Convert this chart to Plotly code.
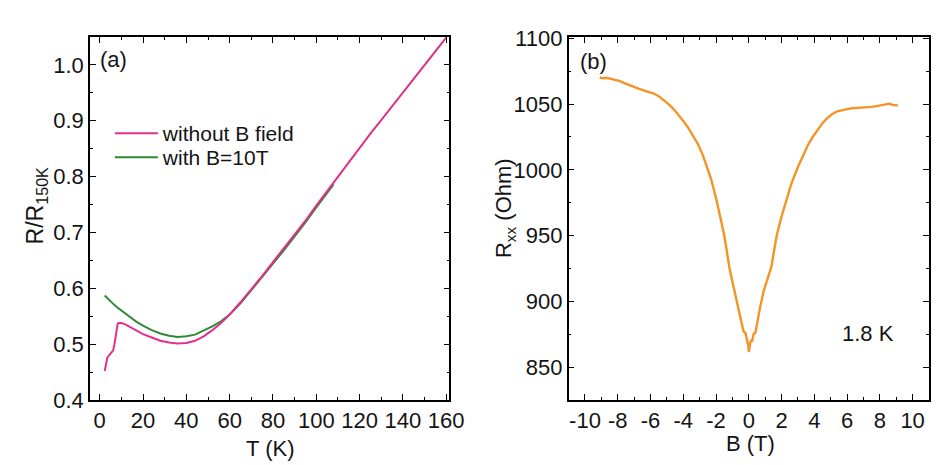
import plotly.graph_objects as go

# ---------------- data: panel (a) ----------------
T_zero = [2.3, 2.6, 3.0, 3.5, 4.5, 5.5, 6.2, 6.8, 7.3, 7.8, 8.3, 9.0, 10.0, 12, 14, 17, 20, 24, 28,
          32, 36, 40, 44, 48, 52, 56, 60, 65, 70, 75, 80, 85, 90, 95, 100, 105, 110, 115, 120,
          125, 130, 135, 140, 145, 150, 155, 160]
R_zero = [0.452, 0.460, 0.470, 0.476, 0.481, 0.485, 0.489, 0.500, 0.515, 0.530, 0.537, 0.538,
          0.538, 0.535, 0.531, 0.524, 0.518, 0.512, 0.506, 0.503, 0.501, 0.502, 0.506, 0.514,
          0.525, 0.538, 0.553, 0.575, 0.598, 0.622, 0.647, 0.671, 0.695, 0.721, 0.748, 0.774,
          0.799, 0.826, 0.852, 0.877, 0.901, 0.926, 0.950, 0.975, 1.000, 1.024, 1.049]

T_10T = [2.3, 4, 6, 8, 10, 12, 14, 17, 20, 24, 28, 32, 36, 40, 44, 48, 52, 56, 60, 65, 70, 75,
         80, 85, 90, 95, 100, 105, 108]
R_10T = [0.587, 0.580, 0.573, 0.566, 0.560, 0.554, 0.548, 0.540, 0.533, 0.525, 0.519, 0.515,
         0.513, 0.514, 0.517, 0.524, 0.532, 0.541, 0.553, 0.573, 0.596, 0.620, 0.644, 0.668,
         0.692, 0.718, 0.745, 0.771, 0.786]

# ---------------- data: panel (b) ----------------
B_field = [-9.1, -8.9, -8.7, -8.5, -8.3, -8.1, -7.9, -7.6, -7.3, -7.0, -6.7, -6.4, -6.1, -5.8,
           -5.5, -5.2, -4.9, -4.6, -4.3, -4.0, -3.7, -3.4, -3.1, -2.8, -2.57, -2.3, -1.96, -1.75,
           -1.51, -1.35, -1.19, -1.0, -0.85, -0.65, -0.45, -0.32, -0.2, -0.1, -0.03, 0.0, 0.05,
           0.12, 0.2, 0.3, 0.4, 0.5, 0.7, 0.9, 1.1, 1.37, 1.55, 1.72, 2.0, 2.28, 2.6, 2.99, 3.3,
           3.6, 3.9, 4.2, 4.5, 4.8, 5.1, 5.4, 5.7, 6.0, 6.3, 6.6, 6.9, 7.2, 7.5, 7.8, 8.1, 8.4,
           8.6, 8.8, 9.0, 9.1]
R_xx = [1070.2, 1069.6, 1070.0, 1069.5, 1069.0, 1068.4, 1067.6, 1066.0, 1064.3, 1063.0, 1061.6,
        1060.5, 1059.2, 1058.0, 1056.0, 1053.2, 1050.0, 1046.4, 1042.0, 1037.2, 1032.0, 1026.0,
        1019.5, 1011.0, 1002.0, 993.0, 976.5, 965.0, 951.0, 939.0, 926.0, 915.0, 906.5, 895.0,
        883.0, 877.0, 876.0, 871.0, 866.0, 861.5, 866.0, 870.5, 869.5, 875.5, 876.0, 883.0,
        896.0, 907.5, 915.5, 926.0, 939.0, 951.0, 964.5, 976.5, 989.5, 1002.0, 1011.0, 1018.5,
        1025.0, 1030.5, 1035.5, 1039.5, 1042.5, 1044.5, 1045.5, 1046.2, 1046.8, 1047.0, 1047.5,
        1047.4, 1047.9, 1048.4, 1049.0, 1049.6, 1050.3, 1049.3, 1048.8, 1049.0]

# tick labels
a_xticks = [0, 20, 40, 60, 80, 100, 120, 140, 160]
a_yticks = [0.4, 0.5, 0.6, 0.7, 0.8, 0.9, 1.0]
b_xticks = [-10, -8, -6, -4, -2, 0, 2, 4, 6, 8, 10]
b_xticktext = ["-10", "-8", "-6", "-4", "-2", "0", "2", "4", "6", "8", "10"]
b_yticks = [850, 900, 950, 1000, 1050, 1100]

# ---------------- layout geometry (pixels) ----------------
W, H = 948, 465
ML, MR, MT, MB = 82, 21, 29, 73
IW = W - ML - MR
IH = H - MT - MB


def px(xp):
    return (xp - ML) / IW


def py(yp):
    return (H - MB - yp) / IH


FONT = "Liberation Sans, Arial, Helvetica, sans-serif"
TXT = "#141414"
PINK = "#e2308a"
GREEN = "#2e8a36"
ORANGE = "#f39424"

fig = go.Figure()
fig.add_trace(go.Scatter(x=T_10T, y=R_10T, mode="lines", name="with B=10T",
                         line=dict(color=GREEN, width=2), legend="legend2",
                         xaxis="x", yaxis="y"))
fig.add_trace(go.Scatter(x=T_zero, y=R_zero, mode="lines", name="without B field",
                         line=dict(color=PINK, width=2), legend="legend",
                         xaxis="x", yaxis="y"))
fig.add_trace(go.Scatter(x=B_field, y=R_xx, mode="lines", name="1.8 K",
                         line=dict(color=ORANGE, width=2.4), showlegend=False,
                         xaxis="x2", yaxis="y2"))

axis_common = dict(showline=True, linecolor="black", linewidth=1.5, mirror="allticks",
                   ticks="inside", ticklen=6, tickwidth=1.3, tickcolor="black",
                   showgrid=False, zeroline=False,
                   tickfont=dict(family=FONT, size=22, color=TXT))

leg_common = dict(xanchor="left", yanchor="top", bgcolor="rgba(0,0,0,0)",
                  font=dict(family=FONT, size=21, color=TXT), itemwidth=43)

fig.update_layout(
    width=W, height=H,
    margin=dict(l=ML, r=MR, t=MT, b=MB),
    plot_bgcolor="white", paper_bgcolor="white",
    font=dict(family=FONT, size=21, color=TXT),
    xaxis=dict(domain=[0, px(444)], range=[-4.5, 161.5], tickvals=a_xticks,
               minor=dict(ticks="inside", ticklen=3, dtick=10, tickcolor="black", tickwidth=1.2),
               anchor="y", **axis_common),
    yaxis=dict(domain=[0, 1], range=[0.4, 1.05], tickvals=a_yticks, tickformat=".1f",
               minor=dict(ticks="inside", ticklen=3, dtick=0.05, tickcolor="black", tickwidth=1.2),
               anchor="x", **axis_common),
    xaxis2=dict(domain=[px(564), 1], range=[-11, 11], tickvals=b_xticks, ticktext=b_xticktext,
                minor=dict(ticks="inside", ticklen=3, dtick=1, tickcolor="black", tickwidth=1.2),
                anchor="y2", **axis_common),
    yaxis2=dict(domain=[0, 1], range=[825, 1101], tickvals=b_yticks,
                minor=dict(ticks="inside", ticklen=3, dtick=25, tickcolor="black", tickwidth=1.2),
                anchor="x2", **axis_common),
    legend=dict(x=px(102), y=py(105), **leg_common),
    legend2=dict(x=px(102), y=py(129), **leg_common),
    showlegend=True,
)

ann = [
    dict(text="(a)", x=px(106), y=py(52), size=22),
    dict(text="(b)", x=px(589), y=py(53), size=22),
    dict(text="1.8 K", x=px(866), y=py(325), size=22),
    dict(text="T (K)", x=px(263), y=py(441), size=22),
    dict(text="B (T)", x=px(747), y=py(435), size=22),
]
for a in ann:
    fig.add_annotation(text=a["text"], x=a["x"], y=a["y"], xref="paper", yref="paper",
                       showarrow=False, xanchor="center", yanchor="middle",
                       font=dict(family=FONT, size=a["size"], color=TXT))

fig.add_annotation(text="R/R<sub>150K</sub>", x=px(28), y=py(198), xref="paper", yref="paper",
                   showarrow=False, textangle=-90, xanchor="center", yanchor="middle",
                   font=dict(family=FONT, size=23, color=TXT))
fig.add_annotation(text="R<sub>xx</sub> (Ohm)", x=px(500), y=py(200), xref="paper", yref="paper",
                   showarrow=False, textangle=-90, xanchor="center", yanchor="middle",
                   font=dict(family=FONT, size=22, color=TXT))

fig.write_html("out.html")
